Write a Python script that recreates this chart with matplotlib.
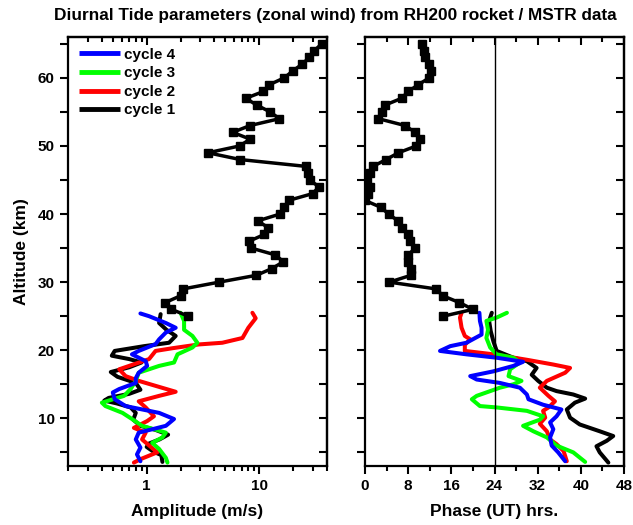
import matplotlib
matplotlib.use('Agg')
import matplotlib.pyplot as plt
from matplotlib.ticker import MultipleLocator, FixedLocator, LogLocator, FuncFormatter, NullFormatter

plt.rcParams['font.family'] = ['Liberation Sans', 'DejaVu Sans']
plt.rcParams['font.weight'] = 'bold'

# ---------------- data ----------------
# RH200 rocket (cycle 1, squares), 65 -> 25 km
rocket_alt = [65, 64, 63, 62, 61, 60, 59, 58, 57, 56, 55, 54, 53, 52, 51, 50, 49, 48, 47, 46, 45,
              44, 43, 42, 41, 40, 39, 38, 37, 36, 35, 34, 33, 32, 31, 30, 29, 28, 27, 26, 25]
rocket_amp = [35.9, 30.9, 27.9, 24.0, 19.8, 16.7, 12.3, 10.9, 7.6, 9.5, 12.5, 15.1, 8.3, 5.8, 8.3,
              6.7, 3.5, 6.8, 26.0, 27.0, 28.0, 34.0, 29.8, 18.2, 16.7, 15.3, 9.7, 12.0, 11.1, 8.1,
              8.5, 13.9, 16.4, 13.0, 9.4, 4.4, 2.1, 2.0, 1.46, 1.66, 2.35]
rocket_phase = [10.6, 10.9, 11.2, 11.8, 12.3, 11.9, 9.9, 8.0, 6.8, 3.7, 3.2, 2.5, 7.4, 9.3, 10.2,
                9.5, 6.2, 3.9, 1.5, 0.9, 0.3, 1.0, 0.6, 0.0, 2.9, 4.4, 6.1, 6.8, 7.9, 8.3, 9.3,
                8.0, 8.0, 8.5, 8.5, 4.5, 13.2, 14.4, 17.5, 20.0, 14.5]

# MSTR amplitude profiles
c1_amp_alt = [25.3, 24.0, 23.0, 22.1, 21.1, 20.6, 19.9, 19.2, 18.7, 18.2, 17.5, 16.8, 16.1, 15.2,
              14.2, 13.6, 13.0, 12.6, 12.2, 11.6, 10.8, 9.8, 8.9, 8.3, 7.6, 6.9, 6.3, 5.8, 5.1, 4.6, 3.6]
c1_amp = [1.33, 1.29, 1.5, 1.81, 1.58, 0.95, 0.52, 0.49, 0.7, 0.9, 0.7, 0.48, 0.55, 0.8, 0.88, 0.7,
          0.46, 0.42, 0.54, 0.72, 0.8, 0.76, 0.88, 1.2, 1.55, 1.3, 1.05, 1.0, 1.15, 1.35, 1.38]

c2_amp_alt = [25.5, 24.7, 23.3, 21.8, 21.1, 20.85, 20.3, 19.9, 18.7, 17.2, 16.2, 15.5, 13.9, 13.3,
              12.5, 11.6, 10.3, 9.6, 8.6, 7.9, 6.9, 5.0, 4.0, 3.5]
c2_amp = [8.7, 9.3, 8.0, 7.1, 4.7, 2.9, 1.7, 1.2, 1.05, 0.57, 0.65, 0.85, 1.81, 1.29, 0.85, 0.98,
          1.16, 1.01, 0.77, 0.98, 0.91, 1.24, 0.88, 0.77]

c3_amp_alt = [25.5, 24.3, 23.0, 22.1, 21.1, 20.4, 19.4, 18.2, 17.7, 16.7, 15.5, 14.3, 13.3, 12.3,
              11.8, 10.8, 9.9, 8.9, 7.9, 7.2, 6.4, 5.5, 4.2, 3.5]
c3_amp = [2.0, 2.15, 2.15, 2.55, 2.82, 2.55, 1.88, 1.75, 1.29, 0.85, 0.8, 0.72, 0.63, 0.4, 0.43,
          0.61, 0.74, 0.91, 1.48, 1.38, 1.12, 1.29, 1.48, 1.53]

c4_amp_alt = [25.4, 25.0, 24.0, 23.3, 22.6, 21.6, 20.9, 19.9, 19.4, 18.4, 17.7, 16.7, 15.9, 15.2,
              14.3, 13.8, 12.8, 11.8, 10.8, 9.9, 8.9, 7.9, 6.9, 5.7, 4.7, 3.7]
c4_amp = [0.88, 1.05, 1.48, 1.81, 1.48, 1.29, 1.2, 0.85, 0.74, 0.98, 1.01, 0.85, 0.8, 0.8, 0.57,
          0.5, 0.52, 0.65, 1.29, 1.75, 1.48, 0.85, 0.8, 0.88, 0.82, 0.88]

# MSTR phase profiles
c1_ph_alt = [25.5, 24.3, 22.8, 21.3, 20.6, 19.9, 18.9, 18.4, 17.4, 16.4, 15.5, 14.5, 14.0, 13.5,
             12.9, 12.3, 11.3, 10.1, 9.1, 8.1, 7.4, 6.7, 5.9, 5.0, 3.5]
c1_ph = [23.5, 23.0, 23.3, 23.8, 24.1, 24.4, 27.5, 30.0, 31.8, 30.9, 32.1, 33.7, 35.5, 38.6, 40.8,
         38.9, 37.4, 38.0, 39.8, 43.5, 46.0, 44.8, 42.9, 43.5, 45.1]

c2_ph_alt = [25.5, 24.8, 23.3, 22.1, 21.6, 20.8, 19.9, 19.4, 18.6, 17.9, 17.4, 16.7, 15.5, 14.5,
             13.3, 12.5, 11.6, 11.1, 10.1, 9.2, 8.1, 6.9, 6.2, 5.2, 3.7]
c2_ph = [17.9, 17.6, 17.9, 18.5, 19.5, 18.5, 18.5, 23.8, 30.0, 34.9, 38.0, 37.1, 33.7, 32.4, 34.0,
         35.2, 34.0, 33.0, 33.4, 32.4, 33.7, 34.3, 35.5, 36.8, 37.4]

c3_ph_alt = [25.5, 24.8, 24.3, 23.0, 21.8, 20.4, 19.4, 18.9, 18.2, 17.2, 16.2, 15.5, 15.0, 14.5,
             13.3, 12.8, 11.8, 11.6, 11.1, 10.3, 9.8, 8.9, 8.1, 7.2, 6.0, 5.0, 3.6]
c3_ph = [26.3, 24.4, 22.5, 22.8, 22.5, 23.2, 24.4, 27.5, 28.7, 26.9, 26.6, 29.0, 27.5, 25.0, 20.7,
         19.8, 21.3, 24.4, 30.0, 33.0, 32.4, 29.3, 31.2, 33.7, 35.5, 38.6, 40.8]

c4_ph_alt = [25.5, 24.3, 23.3, 22.3, 21.1, 20.6, 19.9, 19.4, 18.9, 18.3, 17.7, 16.9, 16.2, 15.7,
             15.2, 14.5, 13.5, 12.8, 12.0, 11.3, 10.3, 9.4, 8.4, 7.2, 6.0, 5.0, 3.7]
c4_ph = [21.2, 21.3, 21.6, 21.6, 18.8, 15.8, 13.9, 18.8, 24.4, 29.3, 27.5, 23.8, 19.5, 20.7, 25.0,
         28.7, 30.0, 30.3, 33.0, 36.4, 35.5, 34.3, 34.9, 34.3, 34.6, 35.8, 37.1]

labels = ['cycle 4', 'cycle 3', 'cycle 2', 'cycle 1']
colors = ['#0000ff', '#00ff00', '#ff0000', '#000000']

title = 'Diurnal Tide parameters (zonal wind) from RH200 rocket / MSTR data'

# ---------------- figure ----------------
fig = plt.figure(figsize=(6.33, 5.25), dpi=100)
W, H = 633, 525
ax1 = fig.add_axes([68 / W, 59 / H, 259 / W, 429 / H])
ax2 = fig.add_axes([365 / W, 59 / H, 259 / W, 429 / H])

LW = 2.9
amp_sets = [(c4_amp, c4_amp_alt), (c3_amp, c3_amp_alt), (c2_amp, c2_amp_alt), (c1_amp, c1_amp_alt)]
ph_sets = [(c4_ph, c4_ph_alt), (c3_ph, c3_ph_alt), (c2_ph, c2_ph_alt), (c1_ph, c1_ph_alt)]

handles = []
for (x, y), c, lab in zip(reversed(amp_sets), reversed(colors), reversed(labels)):
    h, = ax1.plot(x, y, color=c, lw=LW, label=lab, solid_capstyle='round', solid_joinstyle='round')
    handles.append(h)
handles = handles[::-1]
ax1.plot(rocket_amp, rocket_alt, color='black', lw=2.5, marker='s', ms=5.5)

for (x, y), c in zip(reversed(ph_sets), reversed(colors)):
    ax2.plot(x, y, color=c, lw=LW, solid_capstyle='round', solid_joinstyle='round')
ax2.plot(rocket_phase, rocket_alt, color='black', lw=2.5, marker='s', ms=5.5)
ax2.axvline(24, color='black', lw=1.0)

ax1.set_xscale('log')
ax1.set_xlim(0.2, 40)
ax2.set_xlim(0, 48)
for ax in (ax1, ax2):
    ax.set_ylim(3, 66)
    for s in ax.spines.values():
        s.set_linewidth(1.6)

def style(ax, xmaj, xmin, xfmt, ylabels):
    ax.xaxis.set_major_locator(xmaj)
    ax.xaxis.set_minor_locator(xmin)
    ax.xaxis.set_major_formatter(xfmt)
    ax.xaxis.set_minor_formatter(NullFormatter())
    ax.yaxis.set_major_locator(MultipleLocator(5))
    ax.yaxis.set_minor_locator(FixedLocator([]))
    if ylabels:
        ax.yaxis.set_major_formatter(FuncFormatter(lambda v, p: f'{int(round(v))}' if round(v) % 10 == 0 else ''))
    else:
        ax.yaxis.set_major_formatter(NullFormatter())
    ax.tick_params(which='major', direction='out', length=6, width=1.5, labelsize=11,
                   top=False, right=False)
    ax.tick_params(which='minor', direction='out', length=3.5, width=1.5, top=False, right=False)
    sx = ax.secondary_xaxis('top')
    sx.xaxis.set_major_locator(xmaj)
    sx.xaxis.set_minor_locator(xmin)
    sx.xaxis.set_major_formatter(NullFormatter())
    sx.xaxis.set_minor_formatter(NullFormatter())
    sx.tick_params(which='major', direction='in', length=6, width=1.5)
    sx.tick_params(which='minor', direction='in', length=3.5, width=1.5)
    sx.spines['top'].set_linewidth(1.6)
    sy = ax.secondary_yaxis('right')
    sy.yaxis.set_major_locator(MultipleLocator(5))
    sy.yaxis.set_major_formatter(NullFormatter())
    sy.tick_params(which='major', direction='in', length=6, width=1.5)
    sy.spines['right'].set_linewidth(1.6)

style(ax1, FixedLocator([1, 10]), LogLocator(base=10, subs=[2, 3, 4, 5, 6, 7, 8, 9]),
      FuncFormatter(lambda v, p: f'{v:g}'), True)
style(ax2, MultipleLocator(8), MultipleLocator(4), FuncFormatter(lambda v, p: f'{int(v)}'), False)

ax1.set_xlabel('Amplitude (m/s)', fontsize=12.5, fontweight='bold', labelpad=8)
ax2.set_xlabel('Phase (UT) hrs.', fontsize=12.5, fontweight='bold', labelpad=8)
ax1.set_ylabel('Altitude (km)', fontsize=12.5, fontweight='bold', labelpad=6)

leg = ax1.legend(handles=handles, loc='upper left', frameon=False, handlelength=2.7,
                 handletextpad=0.25, labelspacing=0.3, borderaxespad=0.3, borderpad=0.4,
                 prop={'weight': 'bold', 'size': 11})
for l in leg.get_lines():
    l.set_linewidth(3.5)
    l.set_solid_capstyle('butt')

fig.text(0.530, 0.971, title, ha='center', va='center', fontsize=12.4, fontweight='bold')

fig.savefig('out.png', dpi=100)
